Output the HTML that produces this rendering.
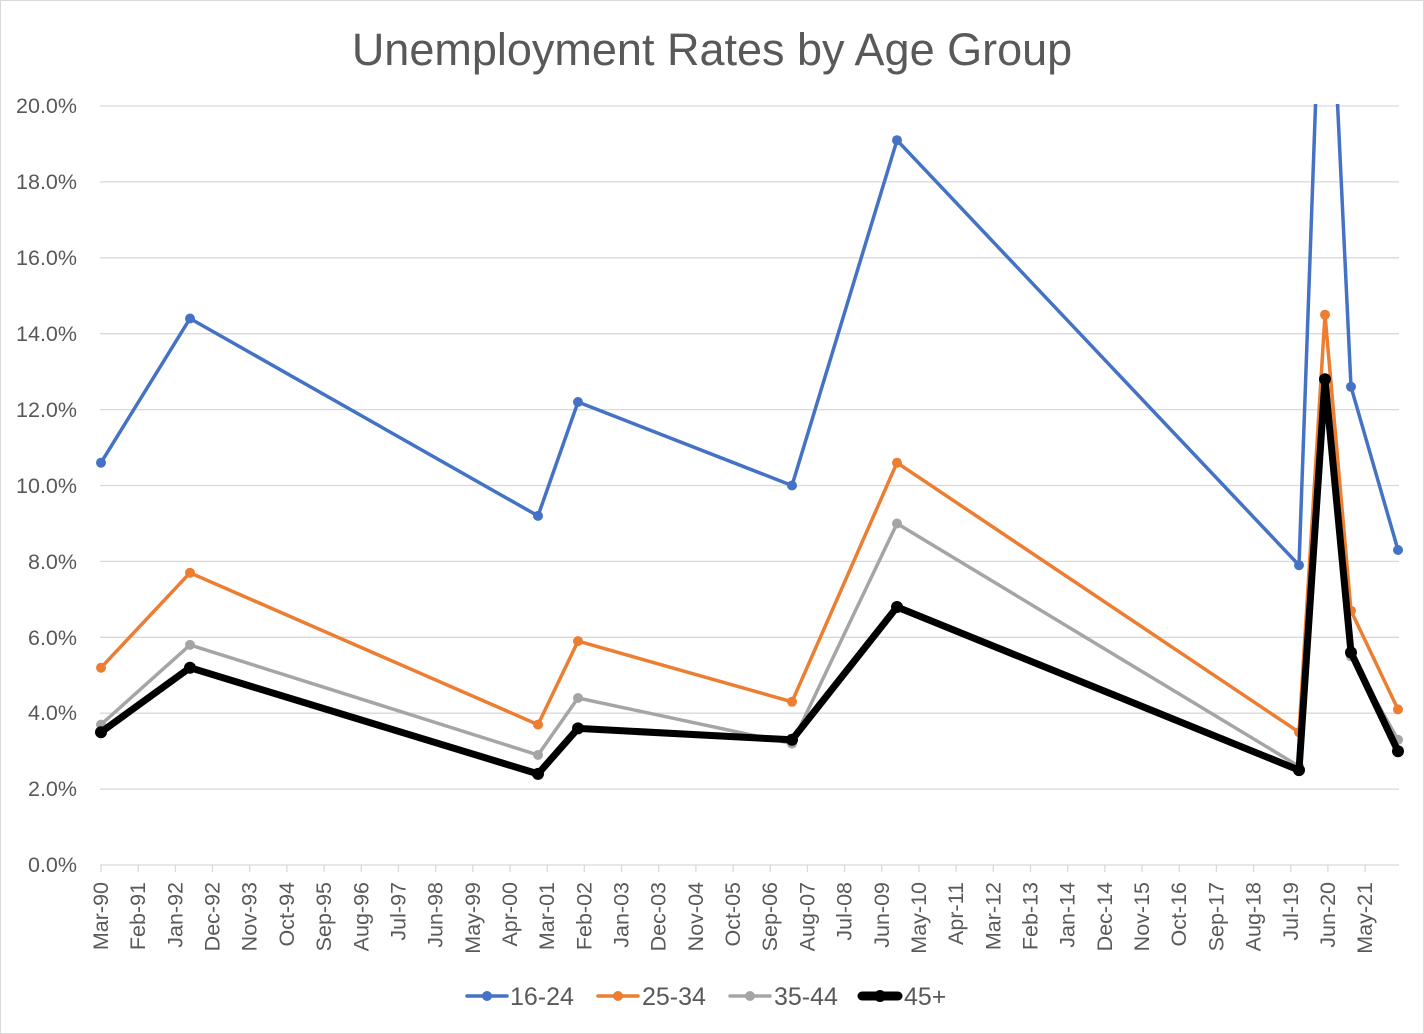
<!DOCTYPE html>
<html><head><meta charset="utf-8"><style>
html,body{margin:0;padding:0;background:#fff}
svg{display:block;font-family:"Liberation Sans",sans-serif}
</style></head><body>
<svg width="1424" height="1034" viewBox="0 0 1424 1034">
<rect x="0.5" y="0.5" width="1423" height="1033" fill="#fff" stroke="#d9d9d9"/>
<text x="712" y="65" text-anchor="middle" font-size="45" fill="#595959">Unemployment Rates by Age Group</text>
<g stroke="#d9d9d9" stroke-width="1.3">
<line x1="100" x2="1399" y1="106" y2="106"/>
<line x1="100" x2="1399" y1="181.9" y2="181.9"/>
<line x1="100" x2="1399" y1="257.8" y2="257.8"/>
<line x1="100" x2="1399" y1="333.7" y2="333.7"/>
<line x1="100" x2="1399" y1="409.6" y2="409.6"/>
<line x1="100" x2="1399" y1="485.5" y2="485.5"/>
<line x1="100" x2="1399" y1="561.4" y2="561.4"/>
<line x1="100" x2="1399" y1="637.3" y2="637.3"/>
<line x1="100" x2="1399" y1="713.2" y2="713.2"/>
<line x1="100" x2="1399" y1="789.1" y2="789.1"/>
<line x1="100" x2="1399" y1="865" y2="865"/>
</g>
<g font-size="21.5" fill="#595959" text-anchor="end">
<text x="77" y="113">20.0%</text><text x="77" y="189">18.0%</text><text x="77" y="265">16.0%</text>
<text x="77" y="341">14.0%</text><text x="77" y="417">12.0%</text><text x="77" y="493">10.0%</text>
<text x="77" y="569">8.0%</text><text x="77" y="645">6.0%</text><text x="77" y="720">4.0%</text>
<text x="77" y="796">2.0%</text><text x="77" y="872">0.0%</text>
</g>
<g stroke="#d9d9d9" stroke-width="1.3">
<line x1="101" x2="101" y1="865" y2="872"/><line x1="138.2" x2="138.2" y1="865" y2="872"/><line x1="175.4" x2="175.4" y1="865" y2="872"/><line x1="212.5" x2="212.5" y1="865" y2="872"/><line x1="249.7" x2="249.7" y1="865" y2="872"/><line x1="286.9" x2="286.9" y1="865" y2="872"/><line x1="324.1" x2="324.1" y1="865" y2="872"/><line x1="361.3" x2="361.3" y1="865" y2="872"/><line x1="398.4" x2="398.4" y1="865" y2="872"/><line x1="435.6" x2="435.6" y1="865" y2="872"/><line x1="472.8" x2="472.8" y1="865" y2="872"/><line x1="510" x2="510" y1="865" y2="872"/><line x1="547.2" x2="547.2" y1="865" y2="872"/><line x1="584.3" x2="584.3" y1="865" y2="872"/><line x1="621.5" x2="621.5" y1="865" y2="872"/><line x1="658.7" x2="658.7" y1="865" y2="872"/><line x1="695.9" x2="695.9" y1="865" y2="872"/><line x1="733.1" x2="733.1" y1="865" y2="872"/><line x1="770.2" x2="770.2" y1="865" y2="872"/><line x1="807.4" x2="807.4" y1="865" y2="872"/><line x1="844.6" x2="844.6" y1="865" y2="872"/><line x1="881.8" x2="881.8" y1="865" y2="872"/><line x1="919" x2="919" y1="865" y2="872"/><line x1="956.1" x2="956.1" y1="865" y2="872"/><line x1="993.3" x2="993.3" y1="865" y2="872"/><line x1="1030.5" x2="1030.5" y1="865" y2="872"/><line x1="1067.7" x2="1067.7" y1="865" y2="872"/><line x1="1104.9" x2="1104.9" y1="865" y2="872"/><line x1="1142" x2="1142" y1="865" y2="872"/><line x1="1179.2" x2="1179.2" y1="865" y2="872"/><line x1="1216.4" x2="1216.4" y1="865" y2="872"/><line x1="1253.6" x2="1253.6" y1="865" y2="872"/><line x1="1290.8" x2="1290.8" y1="865" y2="872"/><line x1="1327.9" x2="1327.9" y1="865" y2="872"/><line x1="1365.1" x2="1365.1" y1="865" y2="872"/>
</g>
<g font-size="21.5" fill="#595959" text-anchor="end">
<text transform="translate(108,882) rotate(-90)">Mar-90</text>
<text transform="translate(145.2,882) rotate(-90)">Feb-91</text>
<text transform="translate(182.4,882) rotate(-90)">Jan-92</text>
<text transform="translate(219.5,882) rotate(-90)">Dec-92</text>
<text transform="translate(256.7,882) rotate(-90)">Nov-93</text>
<text transform="translate(293.9,882) rotate(-90)">Oct-94</text>
<text transform="translate(331.1,882) rotate(-90)">Sep-95</text>
<text transform="translate(368.3,882) rotate(-90)">Aug-96</text>
<text transform="translate(405.4,882) rotate(-90)">Jul-97</text>
<text transform="translate(442.6,882) rotate(-90)">Jun-98</text>
<text transform="translate(479.8,882) rotate(-90)">May-99</text>
<text transform="translate(517,882) rotate(-90)">Apr-00</text>
<text transform="translate(554.2,882) rotate(-90)">Mar-01</text>
<text transform="translate(591.3,882) rotate(-90)">Feb-02</text>
<text transform="translate(628.5,882) rotate(-90)">Jan-03</text>
<text transform="translate(665.7,882) rotate(-90)">Dec-03</text>
<text transform="translate(702.9,882) rotate(-90)">Nov-04</text>
<text transform="translate(740.1,882) rotate(-90)">Oct-05</text>
<text transform="translate(777.2,882) rotate(-90)">Sep-06</text>
<text transform="translate(814.4,882) rotate(-90)">Aug-07</text>
<text transform="translate(851.6,882) rotate(-90)">Jul-08</text>
<text transform="translate(888.8,882) rotate(-90)">Jun-09</text>
<text transform="translate(926,882) rotate(-90)">May-10</text>
<text transform="translate(963.1,882) rotate(-90)">Apr-11</text>
<text transform="translate(1000.3,882) rotate(-90)">Mar-12</text>
<text transform="translate(1037.5,882) rotate(-90)">Feb-13</text>
<text transform="translate(1074.7,882) rotate(-90)">Jan-14</text>
<text transform="translate(1111.9,882) rotate(-90)">Dec-14</text>
<text transform="translate(1149,882) rotate(-90)">Nov-15</text>
<text transform="translate(1186.2,882) rotate(-90)">Oct-16</text>
<text transform="translate(1223.4,882) rotate(-90)">Sep-17</text>
<text transform="translate(1260.6,882) rotate(-90)">Aug-18</text>
<text transform="translate(1297.8,882) rotate(-90)">Jul-19</text>
<text transform="translate(1334.9,882) rotate(-90)">Jun-20</text>
<text transform="translate(1372.1,882) rotate(-90)">May-21</text>
</g>
<defs><clipPath id="c"><rect x="80" y="104" width="1340" height="780"/></clipPath></defs>
<g clip-path="url(#c)" fill="none" stroke-linejoin="round">
<polyline stroke="#4472C4" stroke-width="3.5" points="101,462.7 190,318.5 538,515.9 578,402 792,485.5 897,140.2 1299,565.2 1325,-159.7 1351,386.8 1398,550"/>
<g fill="#4472C4"><circle cx="101" cy="462.7" r="5"/><circle cx="190" cy="318.5" r="5"/><circle cx="538" cy="515.9" r="5"/><circle cx="578" cy="402" r="5"/><circle cx="792" cy="485.5" r="5"/><circle cx="897" cy="140.2" r="5"/><circle cx="1299" cy="565.2" r="5"/><circle cx="1351" cy="386.8" r="5"/><circle cx="1398" cy="550" r="5"/></g>
<polyline stroke="#ED7D31" stroke-width="3.5" points="101,667.7 190,572.8 538,724.6 578,641.1 792,701.8 897,462.7 1299,732.2 1325,314.7 1351,610.7 1398,709.4"/>
<g fill="#ED7D31"><circle cx="101" cy="667.7" r="5"/><circle cx="190" cy="572.8" r="5"/><circle cx="538" cy="724.6" r="5"/><circle cx="578" cy="641.1" r="5"/><circle cx="792" cy="701.8" r="5"/><circle cx="897" cy="462.7" r="5"/><circle cx="1299" cy="732.2" r="5"/><circle cx="1325" cy="314.7" r="5"/><circle cx="1351" cy="610.7" r="5"/><circle cx="1398" cy="709.4" r="5"/></g>
<polyline stroke="#A5A5A5" stroke-width="3.5" points="101,724.6 190,644.9 538,755 578,698 792,743.6 897,523.5 1299,766.3 1325,390.6 1351,656.3 1398,739.8"/>
<g fill="#A5A5A5"><circle cx="101" cy="724.6" r="5"/><circle cx="190" cy="644.9" r="5"/><circle cx="538" cy="755" r="5"/><circle cx="578" cy="698" r="5"/><circle cx="792" cy="743.6" r="5"/><circle cx="897" cy="523.5" r="5"/><circle cx="1299" cy="766.3" r="5"/><circle cx="1325" cy="390.6" r="5"/><circle cx="1351" cy="656.3" r="5"/><circle cx="1398" cy="739.8" r="5"/></g>
<polyline stroke="#000" stroke-width="7" points="101,732.2 190,667.7 538,773.9 578,728.4 792,739.8 897,607 1299,770.1 1325,379.2 1351,652.5 1398,751.2"/>
<g fill="#000"><circle cx="101" cy="732.2" r="6"/><circle cx="190" cy="667.7" r="6"/><circle cx="538" cy="773.9" r="6"/><circle cx="578" cy="728.4" r="6"/><circle cx="792" cy="739.8" r="6"/><circle cx="897" cy="607" r="6"/><circle cx="1299" cy="770.1" r="6"/><circle cx="1325" cy="379.2" r="6"/><circle cx="1351" cy="652.5" r="6"/><circle cx="1398" cy="751.2" r="6"/></g>
</g>
<g font-size="25" fill="#595959">
<line x1="467" x2="507" y1="996" y2="996" stroke="#4472C4" stroke-width="3.5" stroke-linecap="round"/><circle cx="487" cy="996" r="5" fill="#4472C4"/><text x="510" y="1005">16-24</text>
<line x1="598" x2="638" y1="996" y2="996" stroke="#ED7D31" stroke-width="3.5" stroke-linecap="round"/><circle cx="618" cy="996" r="5" fill="#ED7D31"/><text x="642" y="1005">25-34</text>
<line x1="730" x2="770" y1="996" y2="996" stroke="#A5A5A5" stroke-width="3.5" stroke-linecap="round"/><circle cx="750" cy="996" r="5" fill="#A5A5A5"/><text x="774" y="1005">35-44</text>
<line x1="862" x2="898" y1="996" y2="996" stroke="#000" stroke-width="9" stroke-linecap="round"/><circle cx="880" cy="996" r="6" fill="#000"/><text x="904" y="1005">45+</text>
</g>
</svg>
</body></html>
